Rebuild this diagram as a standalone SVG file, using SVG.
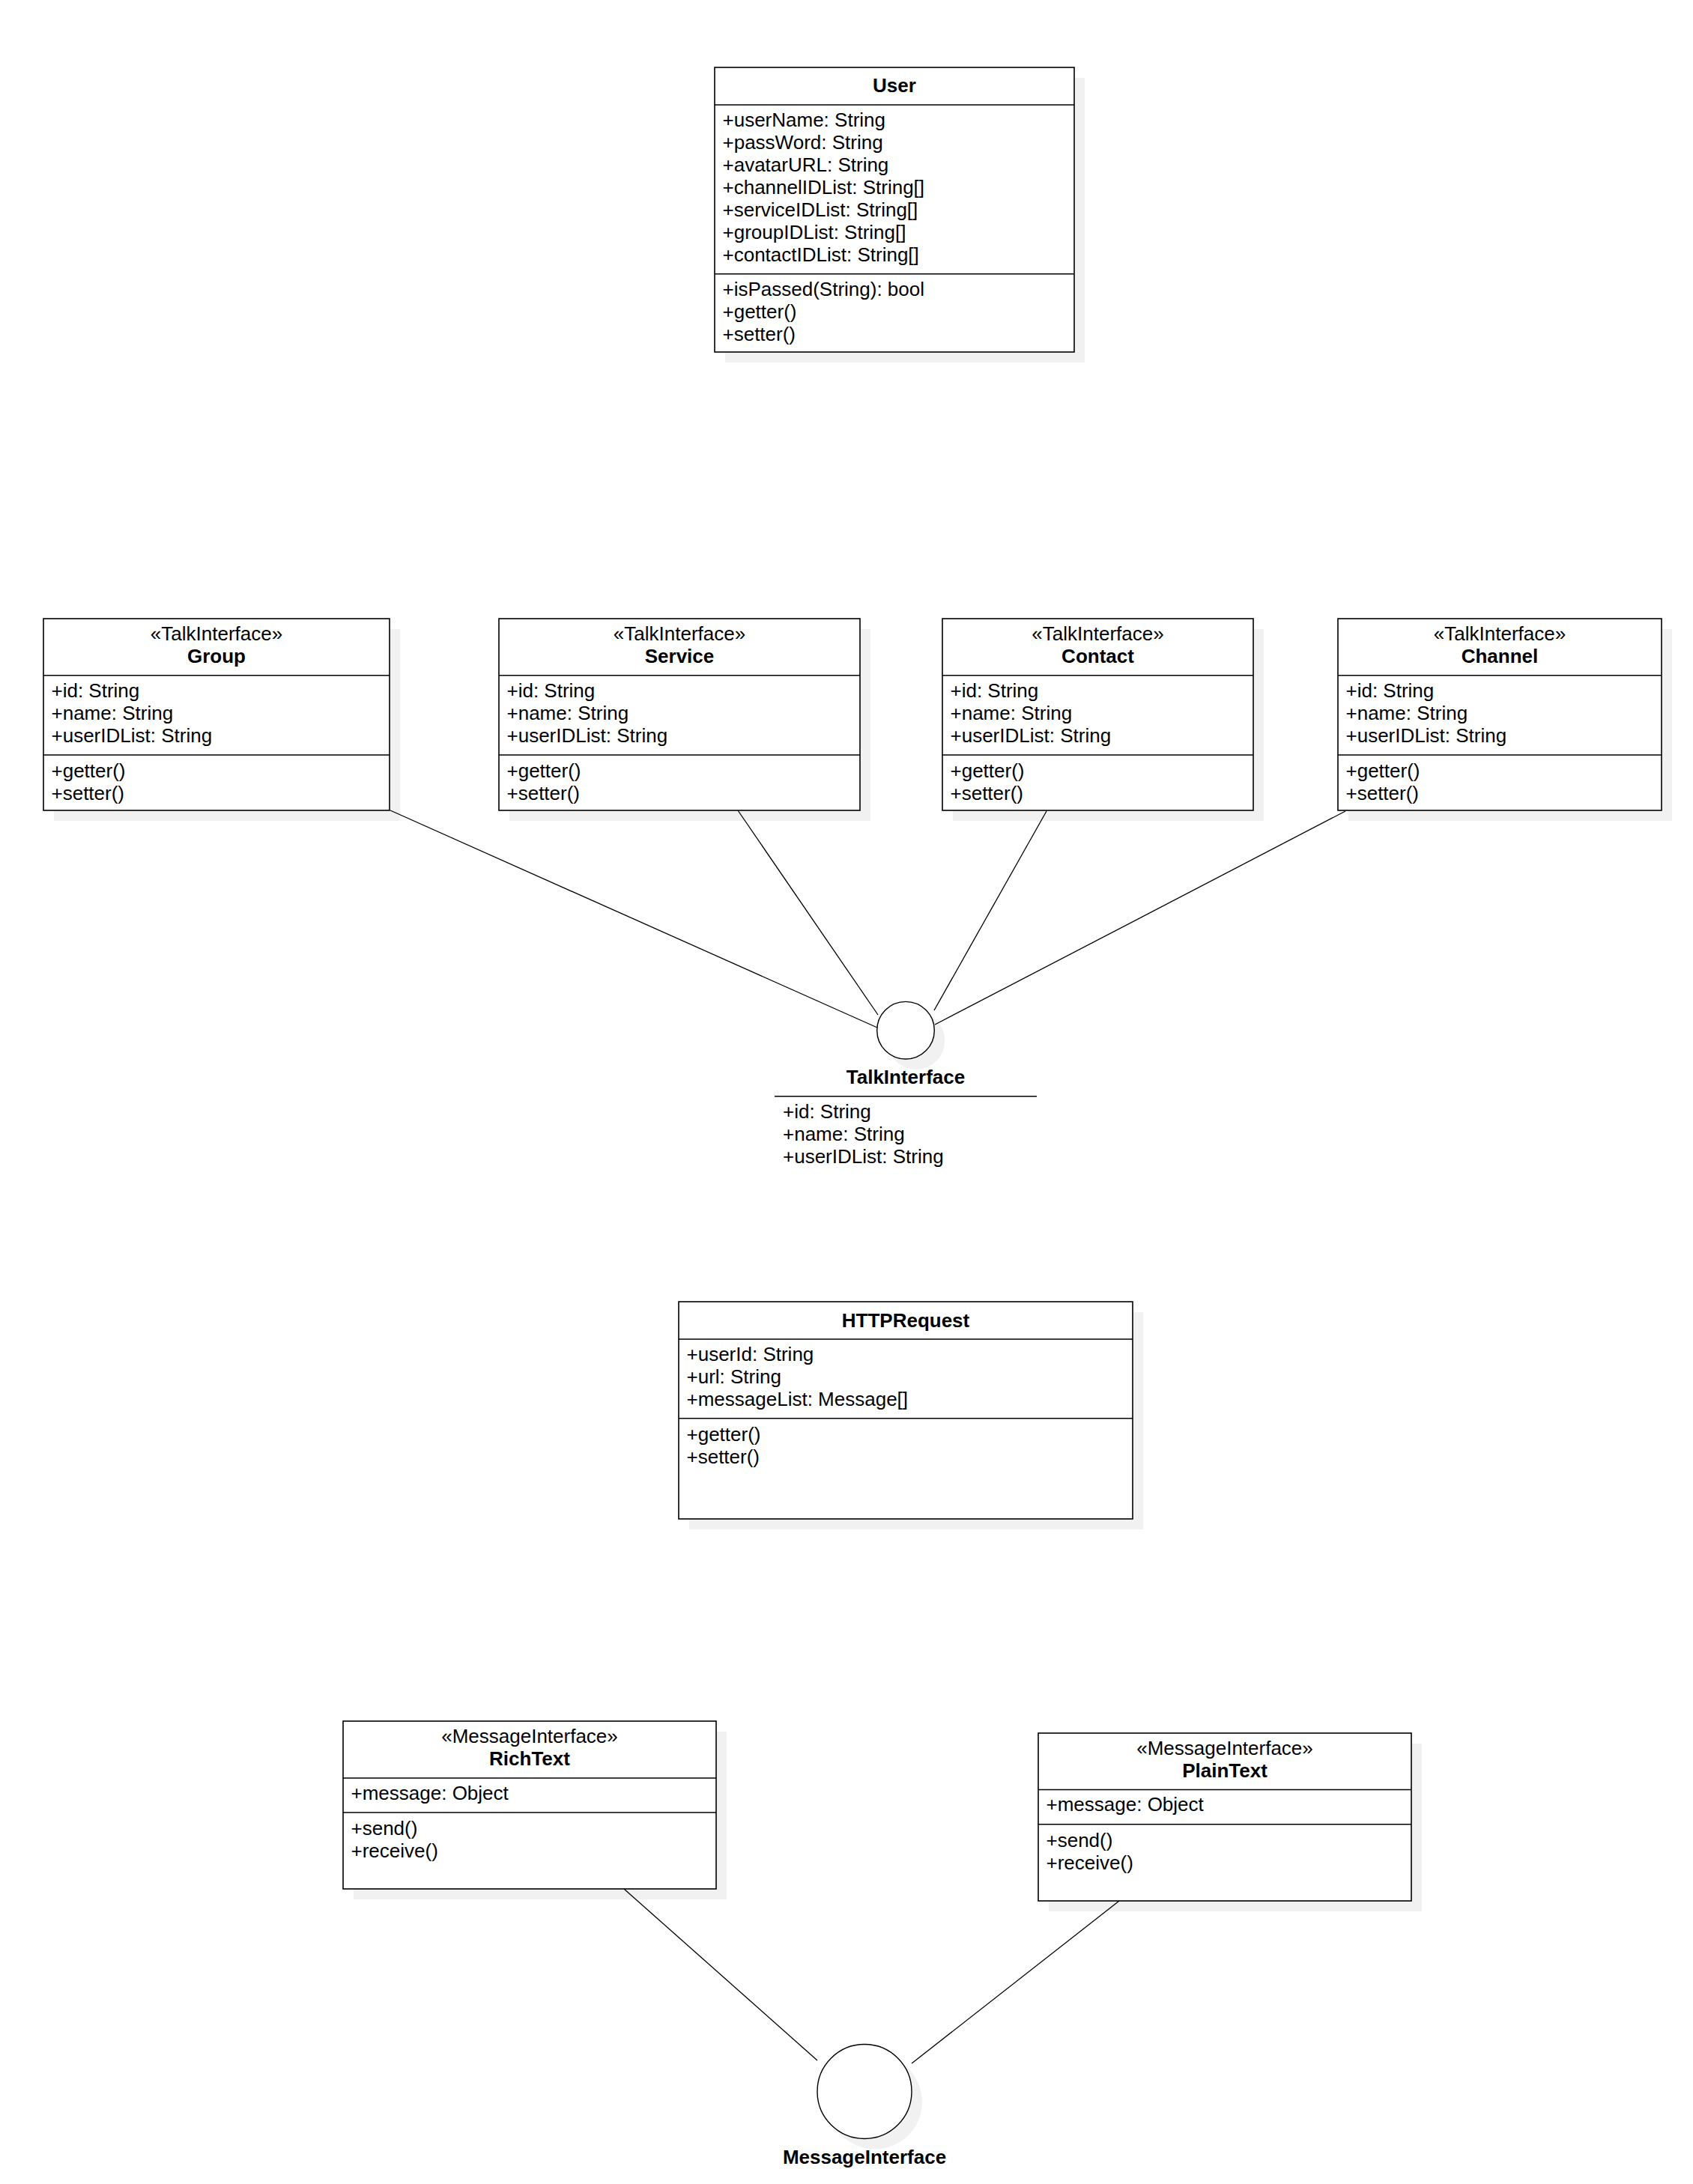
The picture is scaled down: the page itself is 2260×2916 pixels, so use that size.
<svg xmlns="http://www.w3.org/2000/svg" width="2260" height="2916" viewBox="0 0 2260 2916">
<style>
.bg{fill:#ffffff}
.sh{fill:#f1f1f1;stroke:none}
.box{fill:#ffffff;stroke:#000000;stroke-width:1.6}
.dv{stroke:#000000;stroke-width:1.6;fill:none}
.cn{stroke:#000000;stroke-width:1.3;fill:none}
.ci{fill:#ffffff;stroke:#000000;stroke-width:1.4}
text{font-family:"Liberation Sans",Arial,Helvetica,sans-serif;font-size:26px;fill:#000000}
.b{font-weight:bold}
.c{text-anchor:middle}
</style>
<rect class="bg" x="0" y="0" width="2260" height="2916"/>

<g id="User">
<rect class="sh" x="968" y="104" width="480" height="380"/>
<rect class="box" x="954" y="90" width="480" height="380"/>
<line class="dv" x1="954" y1="140" x2="1434" y2="140"/>
<line class="dv" x1="954" y1="365.7" x2="1434" y2="365.7"/>
<text class="b c" x="1194" y="123">User</text>
<text x="964.5" y="169.3">+userName: String</text>
<text x="964.5" y="199.3">+passWord: String</text>
<text x="964.5" y="229.3">+avatarURL: String</text>
<text x="964.5" y="259.3">+channelIDList: String[]</text>
<text x="964.5" y="289.3">+serviceIDList: String[]</text>
<text x="964.5" y="319.3">+groupIDList: String[]</text>
<text x="964.5" y="349.3">+contactIDList: String[]</text>
<text x="964.5" y="395">+isPassed(String): bool</text>
<text x="964.5" y="425">+getter()</text>
<text x="964.5" y="455">+setter()</text>
</g>

<g id="Group">
<rect class="sh" x="72" y="840" width="462" height="256"/>
<rect class="box" x="58" y="826" width="462" height="256"/>
<line class="dv" x1="58" y1="901.7" x2="520" y2="901.7"/>
<line class="dv" x1="58" y1="1008" x2="520" y2="1008"/>
<text class="c" x="289" y="855">«TalkInterface»</text>
<text class="b c" x="289" y="885">Group</text>
<text x="68.5" y="931">+id: String</text>
<text x="68.5" y="961">+name: String</text>
<text x="68.5" y="991">+userIDList: String</text>
<text x="68.5" y="1038">+getter()</text>
<text x="68.5" y="1068">+setter()</text>
</g>

<g id="Service">
<rect class="sh" x="680" y="840" width="482" height="256"/>
<rect class="box" x="666" y="826" width="482" height="256"/>
<line class="dv" x1="666" y1="901.7" x2="1148" y2="901.7"/>
<line class="dv" x1="666" y1="1008" x2="1148" y2="1008"/>
<text class="c" x="907" y="855">«TalkInterface»</text>
<text class="b c" x="907" y="885">Service</text>
<text x="676.5" y="931">+id: String</text>
<text x="676.5" y="961">+name: String</text>
<text x="676.5" y="991">+userIDList: String</text>
<text x="676.5" y="1038">+getter()</text>
<text x="676.5" y="1068">+setter()</text>
</g>

<g id="Contact">
<rect class="sh" x="1272" y="840" width="415" height="256"/>
<rect class="box" x="1258" y="826" width="415" height="256"/>
<line class="dv" x1="1258" y1="901.7" x2="1673" y2="901.7"/>
<line class="dv" x1="1258" y1="1008" x2="1673" y2="1008"/>
<text class="c" x="1465.5" y="855">«TalkInterface»</text>
<text class="b c" x="1465.5" y="885">Contact</text>
<text x="1268.5" y="931">+id: String</text>
<text x="1268.5" y="961">+name: String</text>
<text x="1268.5" y="991">+userIDList: String</text>
<text x="1268.5" y="1038">+getter()</text>
<text x="1268.5" y="1068">+setter()</text>
</g>

<g id="Channel">
<rect class="sh" x="1800" y="840" width="432" height="256"/>
<rect class="box" x="1786" y="826" width="432" height="256"/>
<line class="dv" x1="1786" y1="901.7" x2="2218" y2="901.7"/>
<line class="dv" x1="1786" y1="1008" x2="2218" y2="1008"/>
<text class="c" x="2002" y="855">«TalkInterface»</text>
<text class="b c" x="2002" y="885">Channel</text>
<text x="1796.5" y="931">+id: String</text>
<text x="1796.5" y="961">+name: String</text>
<text x="1796.5" y="991">+userIDList: String</text>
<text x="1796.5" y="1038">+getter()</text>
<text x="1796.5" y="1068">+setter()</text>
</g>

<g id="TalkInterface">
<circle class="sh" cx="1223" cy="1389.7" r="38.3"/>
<circle class="ci" cx="1209" cy="1375.7" r="38.3"/>
<text class="b c" x="1209" y="1446.7">TalkInterface</text>
<line class="dv" x1="1034" y1="1463.7" x2="1384" y2="1463.7"/>
<text x="1045" y="1493.3">+id: String</text>
<text x="1045" y="1522.7">+name: String</text>
<text x="1045" y="1552.7">+userIDList: String</text>
</g>

<g id="HTTPRequest">
<rect class="sh" x="920" y="1752" width="606" height="290"/>
<rect class="box" x="906" y="1738" width="606" height="290"/>
<line class="dv" x1="906" y1="1788" x2="1512" y2="1788"/>
<line class="dv" x1="906" y1="1893.7" x2="1512" y2="1893.7"/>
<text class="b c" x="1209" y="1771.7">HTTPRequest</text>
<text x="916.5" y="1817.3">+userId: String</text>
<text x="916.5" y="1847.3">+url: String</text>
<text x="916.5" y="1877.3">+messageList: Message[]</text>
<text x="916.5" y="1924">+getter()</text>
<text x="916.5" y="1954">+setter()</text>
</g>

<g id="RichText">
<rect class="sh" x="472" y="2312" width="498" height="224"/>
<rect class="box" x="458" y="2298" width="498" height="224"/>
<line class="dv" x1="458" y1="2374" x2="956" y2="2374"/>
<line class="dv" x1="458" y1="2420" x2="956" y2="2420"/>
<text class="c" x="707" y="2326.7">«MessageInterface»</text>
<text class="b c" x="707" y="2357.3">RichText</text>
<text x="468.5" y="2402.7">+message: Object</text>
<text x="468.5" y="2450">+send()</text>
<text x="468.5" y="2480">+receive()</text>
</g>

<g id="PlainText">
<rect class="sh" x="1400" y="2328" width="498" height="224"/>
<rect class="box" x="1386" y="2314" width="498" height="224"/>
<line class="dv" x1="1386" y1="2389.5" x2="1884" y2="2389.5"/>
<line class="dv" x1="1386" y1="2435.7" x2="1884" y2="2435.7"/>
<text class="c" x="1635" y="2343">«MessageInterface»</text>
<text class="b c" x="1635" y="2373.3">PlainText</text>
<text x="1396.5" y="2418.3">+message: Object</text>
<text x="1396.5" y="2466">+send()</text>
<text x="1396.5" y="2496">+receive()</text>
</g>

<g id="MessageInterface">
<circle class="sh" cx="1168" cy="2806.5" r="63"/>
<circle class="ci" cx="1154" cy="2792.5" r="63"/>
<text class="b c" x="1154" y="2889.3">MessageInterface</text>
</g>

<g id="connectors">
<line class="cn" x1="521" y1="1082" x2="1171" y2="1372"/>
<line class="cn" x1="985" y1="1082" x2="1172" y2="1355"/>
<line class="cn" x1="1397" y1="1083" x2="1247" y2="1349"/>
<line class="cn" x1="1796" y1="1083" x2="1248" y2="1368"/>
<line class="cn" x1="833" y1="2522" x2="1091" y2="2751"/>
<line class="cn" x1="1494" y1="2538" x2="1217" y2="2755"/>
</g>
</svg>
